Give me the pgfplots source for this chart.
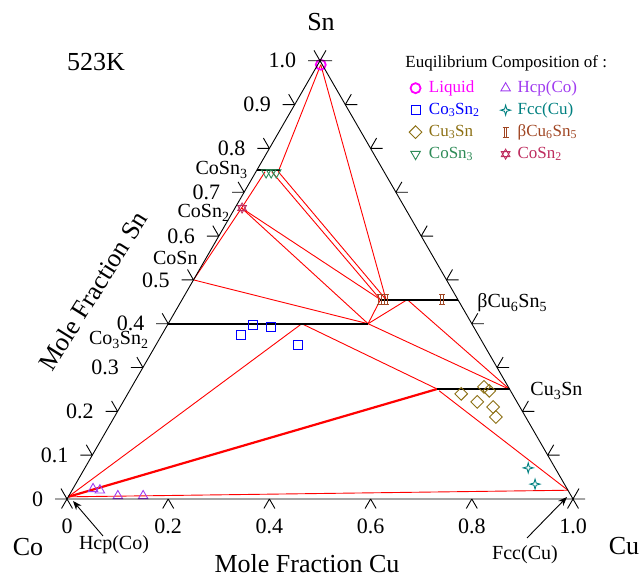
\documentclass[border=0pt]{standalone}
\usepackage{pgfplots}
\pgfplotsset{compat=1.18}
\usepackage{fontspec}
\setmainfont{Liberation Serif}
\usetikzlibrary{arrows.meta}

\definecolor{cliq}{RGB}{255,0,255}
\definecolor{cco3sn2}{RGB}{0,0,255}
\definecolor{ccu3sn}{RGB}{140,112,20}
\definecolor{ccosn3}{RGB}{46,139,87}
\definecolor{chcp}{RGB}{160,60,240}
\definecolor{cfcc}{RGB}{0,128,128}
\definecolor{ceta}{RGB}{160,70,35}
\definecolor{ccosn2}{RGB}{190,45,95}
\definecolor{tiered}{RGB}{255,0,0}

\newcommand\bigf{\fontsize{26bp}{30bp}\selectfont}
\newcommand\tickf{\fontsize{22bp}{26bp}\selectfont}
\newcommand\labf{\fontsize{20bp}{24bp}\selectfont}

% composition (x_Cu, x_Sn) -> position in the Co-Cu-Sn triangle
\pgfplotsset{/pgfplots/table/tern/.style={
  x expr=\thisrow{cu}+0.5*\thisrow{sn},
  y expr=0.8660254*\thisrow{sn}}}

% tie line between two compositions: {Cu1}{Sn1}{Cu2}{Sn2}
\newcommand\tie[5][]{%
  \addplot[tiered, line width=0.9bp, forget plot, #1]
    table[tern, row sep=\\]{cu sn\\ #2 #3\\ #4 #5\\};}

% phase line of a compound (black)
\newcommand\phaseline[4]{%
  \addplot[black, line width=2bp, forget plot]
    table[tern, row sep=\\]{cu sn\\ #1 #2\\ #3 #4\\};}

\pgfdeclareplotmark{fourstar}{%
  \pgfpathmoveto{\pgfqpoint{0pt}{\pgfplotmarksize}}%
  \pgfpathlineto{\pgfqpoint{0.22\pgfplotmarksize}{0.22\pgfplotmarksize}}%
  \pgfpathlineto{\pgfqpoint{\pgfplotmarksize}{0pt}}%
  \pgfpathlineto{\pgfqpoint{0.22\pgfplotmarksize}{-0.22\pgfplotmarksize}}%
  \pgfpathlineto{\pgfqpoint{0pt}{-\pgfplotmarksize}}%
  \pgfpathlineto{\pgfqpoint{-0.22\pgfplotmarksize}{-0.22\pgfplotmarksize}}%
  \pgfpathlineto{\pgfqpoint{-\pgfplotmarksize}{0pt}}%
  \pgfpathlineto{\pgfqpoint{-0.22\pgfplotmarksize}{0.22\pgfplotmarksize}}%
  \pgfpathclose
  \pgfusepathqstroke}

\pgfdeclareplotmark{ibeam}{%
  \pgfpathmoveto{\pgfqpoint{-0.6\pgfplotmarksize}{\pgfplotmarksize}}%
  \pgfpathlineto{\pgfqpoint{0.6\pgfplotmarksize}{\pgfplotmarksize}}%
  \pgfpathmoveto{\pgfqpoint{-0.6\pgfplotmarksize}{-\pgfplotmarksize}}%
  \pgfpathlineto{\pgfqpoint{0.6\pgfplotmarksize}{-\pgfplotmarksize}}%
  \pgfpathmoveto{\pgfqpoint{-0.25\pgfplotmarksize}{\pgfplotmarksize}}%
  \pgfpathlineto{\pgfqpoint{-0.25\pgfplotmarksize}{-\pgfplotmarksize}}%
  \pgfpathmoveto{\pgfqpoint{0.25\pgfplotmarksize}{\pgfplotmarksize}}%
  \pgfpathlineto{\pgfqpoint{0.25\pgfplotmarksize}{-\pgfplotmarksize}}%
  \pgfusepathqstroke}

\pgfdeclareplotmark{hexstar}{%
  \pgfpathmoveto{\pgfpointpolar{90}{\pgfplotmarksize}}%
  \pgfpathlineto{\pgfpointpolar{210}{\pgfplotmarksize}}%
  \pgfpathlineto{\pgfpointpolar{330}{\pgfplotmarksize}}%
  \pgfpathclose
  \pgfpathmoveto{\pgfpointpolar{270}{\pgfplotmarksize}}%
  \pgfpathlineto{\pgfpointpolar{30}{\pgfplotmarksize}}%
  \pgfpathlineto{\pgfpointpolar{150}{\pgfplotmarksize}}%
  \pgfpathclose
  \pgfusepathqstroke}

\begin{document}
\begin{tikzpicture}
\begin{axis}[
  x=506bp, y=506bp,
  xmin=-0.13241, xmax=1.13834, ymin=-0.15415, ymax=0.98617,
  hide axis, clip=false,
  legend columns=2,
  legend cell align=left,
  legend image code/.code={\draw[mark repeat=2,mark phase=2,#1]
      plot coordinates {(0bp,0bp) (6bp,0bp) (12bp,0bp)};},
  legend style={draw=none, fill=none, inner sep=0pt,
     at={(axis cs:0.6759,0.8301)}, anchor=north west,
     font=\fontsize{17bp}{20bp}\selectfont, row sep=4bp, column sep=7bp,
     nodes={inner sep=0pt, text height=13bp, text depth=5bp},
     /tikz/every even column/.append style={column sep=21bp}},
]
\coordinate (TL) at (axis cs:-0.13241,0.98617);

% three-phase triangles and tie lines
\tie{0.006}{0.991}{0.044}{0.747}
\tie{0.006}{0.991}{0.403}{0.455}
\tie{0.044}{0.747}{0.403}{0.455}
\tie{0.031}{0.747}{0.392}{0.455}
\tie{0.018}{0.747}{0.013}{0.664}
\tie{0.013}{0.664}{0.392}{0.455}
\tie{0.013}{0.664}{0.395}{0.400}
\tie{0.013}{0.664}{0.000}{0.500}
\tie{0.000}{0.500}{0.395}{0.400}
\tie{0.395}{0.400}{0.392}{0.455}
\tie{0.395}{0.400}{0.445}{0.455}
\tie{0.445}{0.455}{0.750}{0.250}
\tie{0.395}{0.400}{0.750}{0.250}
\tie{0.264}{0.400}{0.606}{0.251}
\tie{0.000}{0.005}{0.264}{0.400}
\tie[line width=2.2bp]{0.000}{0.005}{0.606}{0.251}
\tie{0.612}{0.247}{0.980}{0.020}
\tie{0.000}{0.005}{0.980}{0.020}

% compound lines
\phaseline{0}{0.75}{0.046}{0.75}
\phaseline{0}{0.40}{0.395}{0.40}
\phaseline{0.392}{0.4545}{0.5455}{0.4545}
\phaseline{0.606}{0.25}{0.75}{0.25}

% measured compositions
\addplot[cliq, only marks, mark=o, mark size=5bp, line width=1.8bp]
  table[tern, row sep=\\]{cu sn\\ 0.006 0.991\\};
\addlegendentry{\textcolor{cliq}{Liquid}}
\addplot[chcp, only marks, mark=triangle, mark size=5.5bp, line width=0.9bp]
  table[tern, row sep=\\]{cu sn\\ 0.040 0.023\\ 0.055 0.020\\ 0.097 0.007\\ 0.147 0.007\\};
\addlegendentry{\textcolor{chcp}{Hcp(Co)}}
\addplot[cco3sn2, only marks, mark=square, mark size=4.5bp, line width=0.9bp]
  table[tern, row sep=\\]{cu sn\\ 0.157 0.374\\ 0.169 0.397\\ 0.207 0.393\\ 0.281 0.352\\};
\addlegendentry{\textcolor{cco3sn2}{Co\textsubscript{3}Sn\textsubscript{2}}}
\addplot[cfcc, only marks, mark=fourstar, mark size=5bp, line width=0.9bp]
  table[tern, row sep=\\]{cu sn\\ 0.876 0.071\\ 0.908 0.034\\};
\addlegendentry{\textcolor{cfcc}{Fcc(Cu)}}
\addplot[ccu3sn, only marks, mark=square, mark options={rotate=45}, mark size=4.5bp, line width=0.9bp]
  table[tern, row sep=\\]{cu sn\\ 0.659 0.240\\ 0.700 0.2215\\ 0.696 0.256\\ 0.711 0.247\\ 0.737 0.210\\ 0.754 0.187\\};
\addlegendentry{\textcolor{ccu3sn}{Cu\textsubscript{3}Sn}}
\addplot[ceta, only marks, mark=ibeam, mark size=5bp, line width=0.9bp]
  table[tern, row sep=\\]{cu sn\\ 0.391 0.4545\\ 0.397 0.4545\\ 0.403 0.4545\\ 0.514 0.4545\\};
\addlegendentry{\textcolor{ceta}{βCu\textsubscript{6}Sn\textsubscript{5}}}
\addplot[ccosn3, only marks, mark=triangle, mark options={rotate=180}, mark size=5.5bp, line width=0.9bp]
  table[tern, row sep=\\]{cu sn\\ 0.021 0.745\\ 0.031 0.745\\ 0.041 0.745\\};
\addlegendentry{\textcolor{ccosn3}{CoSn\textsubscript{3}}}
\addplot[ccosn2, only marks, mark=hexstar, mark size=5bp, line width=0.9bp]
  table[tern, row sep=\\]{cu sn\\ 0.014 0.664\\};
\addlegendentry{\textcolor{ccosn2}{CoSn\textsubscript{2}}}
\end{axis}

% triangle frame, ticks and labels (units: bp from the top-left corner)
\begin{scope}[shift={(TL)}, x=1bp, y=-1bp, line width=0.9bp]
  \draw (67,499) -- (573,499) -- (320,60.8) -- cycle;
  \foreach \i in {0,...,10} {
    \draw ({67+25.3*\i},{499-43.82*\i}) -- ++(-12,0)
          ({67+25.3*\i},{499-43.82*\i}) -- ++(-6,-10.4);
    \draw ({573-25.3*\i},{499-43.82*\i}) -- ++(12,0)
          ({573-25.3*\i},{499-43.82*\i}) -- ++(6,-10.4);
  }
  \foreach \i in {0,...,5} {
    \draw ({67+101.2*\i},499) -- ++(-5.5,9.5)
          ({67+101.2*\i},499) -- ++(5.5,9.5);
  }
  \foreach \i/\l in {0/0,1/0.1,2/0.2,3/0.3,4/0.4,5/0.5,6/0.6,7/0.7,8/0.8,9/0.9,10/1.0}
    \node[anchor=east, inner sep=0pt, font=\tickf] at ({67+25.3*\i-23.5},{499-43.82*\i}) {\l};
  \foreach \i/\l in {0/0,1/0.2,2/0.4,3/0.6,4/0.8,5/1.0}
    \node[inner sep=0pt, font=\tickf] at ({67+101.2*\i},526) {\l};

  \node[font=\bigf] at (321,22) {Sn};
  \node[font=\bigf] at (28,547) {Co};
  \node[font=\bigf] at (624,546) {Cu};
  \node[font=\bigf] at (96,62) {523K};
  \node[font=\bigf, inner sep=0pt] at (307,564) {Mole Fraction Cu};
  \node[font=\bigf, rotate=58] at (93,291) {Mole Fraction Sn};

  \node[anchor=base east, inner sep=0pt, font=\labf] at (248,175) {CoSn\textsubscript{3}};
  \node[anchor=base east, inner sep=0pt, font=\labf] at (230,218) {CoSn\textsubscript{2}};
  \node[anchor=base east, inner sep=0pt, font=\labf] at (198,265) {CoSn};
  \node[anchor=base east, inner sep=0pt, font=\labf] at (149,345) {Co\textsubscript{3}Sn\textsubscript{2}};
  \node[anchor=base west, inner sep=0pt, font=\labf] at (477,308) {βCu\textsubscript{6}Sn\textsubscript{5}};
  \node[anchor=base west, inner sep=0pt, font=\labf] at (530,396) {Cu\textsubscript{3}Sn};

  \node[inner sep=0pt, font=\labf] at (114,545) {Hcp(Co)};
  \draw[-{Stealth[length=9bp,width=7bp]}] (103,536) -- (73,501);
  \node[inner sep=0pt, font=\labf] at (525,555) {Fcc(Cu)};
  \draw[-{Stealth[length=9bp,width=7bp]}] (527,538) -- (567,497);

  \node[anchor=base west, inner sep=0pt, font=\fontsize{17bp}{20bp}\selectfont] at (405,68)
    {Euqilibrium Composition of :};
\end{scope}
\pgfresetboundingbox
\path (TL) rectangle ++(643bp,-577bp);
\end{tikzpicture}
\end{document}
